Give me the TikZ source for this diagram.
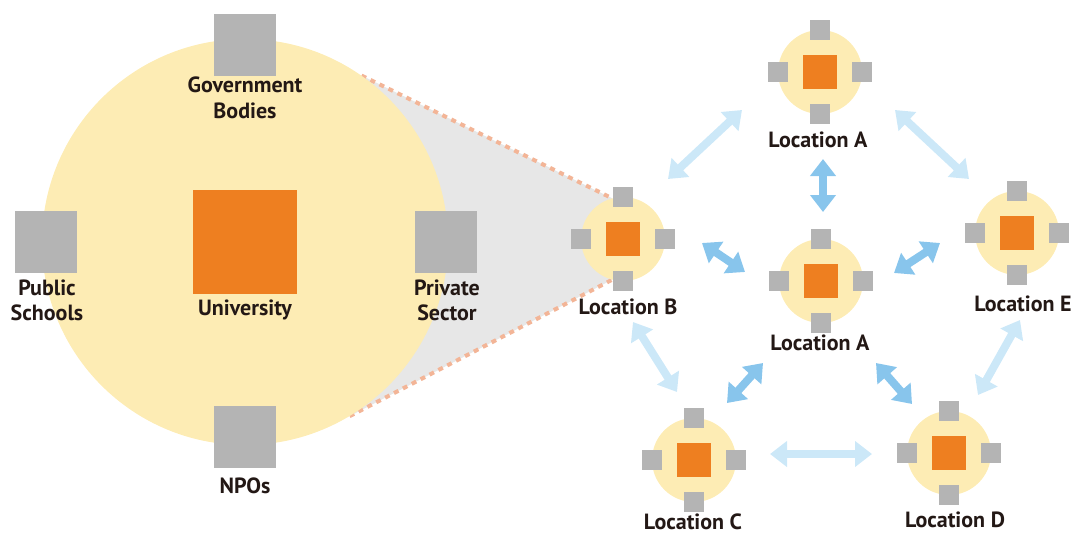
\documentclass[tikz,border=0pt]{standalone}
\usepackage{fontspec}
\setmainfont{PT Sans}
\usetikzlibrary{arrows.meta,backgrounds}

\definecolor{halo}{HTML}{FDECB4}
\definecolor{core}{HTML}{EE7F20}
\definecolor{partner}{HTML}{B4B4B4}
\definecolor{lens}{HTML}{E7E7E7}
\definecolor{zoomline}{HTML}{F3B597}
\definecolor{softblue}{HTML}{CCE8F8}
\definecolor{midblue}{HTML}{88C5EC}
\definecolor{ink}{HTML}{231815}

\tikzset{
  hub/.style={circle, fill=halo, draw=none, inner sep=0pt, minimum size=406pt},
  bigsq/.style={rectangle, fill=partner, draw=none, inner sep=0pt, minimum size=62pt},
  bigcore/.style={rectangle, fill=core, draw=none, inner sep=0pt, minimum size=104pt},
  sitec/.style={circle, fill=halo, draw=none, inner sep=0pt, minimum size=84pt},
  sitecore/.style={rectangle, fill=core, draw=none, inner sep=0pt, minimum size=34pt},
  sitesq/.style={rectangle, fill=partner, draw=none, inner sep=0pt, minimum size=20pt},
  lbl/.style={text=ink, inner sep=0pt, align=center,
    font=\fontsize{22}{25.5}\selectfont\bfseries},
  zoomedge/.style={draw=zoomline, line width=4pt, dash pattern=on 5pt off 5pt},
  weak/.style={draw=softblue, line width=8pt,
    {Triangle[width=25pt,length=17pt]}-{Triangle[width=25pt,length=17pt]}},
  strong/.style={draw=midblue, line width=8pt,
    {Triangle[width=25pt,length=17pt]}-{Triangle[width=25pt,length=17pt]}}
}

% one local site: halo, core and its four partners
\newcommand\localsite[2]{%
  \node[sitec] (#1) at (#2) {};
  \node[sitecore] (#1-core) at (#1) {};
  \node[sitesq] (#1-n) at (#1.north) {};
  \node[sitesq] (#1-s) at (#1.south) {};
  \node[sitesq] (#1-w) at (#1.west) {};
  \node[sitesq] (#1-e) at (#1.east) {};
}

\begin{document}
\begin{tikzpicture}[x=1pt, y=-1pt]
\useasboundingbox (0,0) rectangle (1078,533);

% enlarged hub
\node[hub] (U) at (245,242) {};
\node[bigsq] (gov) at (245,45) {};
\node[bigsq] (sch) at (46,242) {};
\node[bigsq] (pri) at (446,242) {};
\node[bigsq] (npo) at (245,437) {};
\node[bigcore] (uni) at (245,242) {};

\node[lbl] (gov-l) at (245,98) {Government\\Bodies};
\node[lbl] (sch-l) at (47,300.5) {Public\\Schools};
\node[lbl] (pri-l) at (447,300.5) {Private\\Sector};
\node[lbl, anchor=base] (uni-l) at (245,315) {University};
\node[lbl, anchor=base] (npo-l) at (245,493) {NPOs};

% network of local sites
\localsite{A1}{820,72}
\localsite{A2}{821,281}
\localsite{B}{623,239}
\localsite{C}{694,460}
\localsite{D}{949,453}
\localsite{E}{1017,233}

% zoom lens from site B to the enlarged hub
\begin{scope}[on background layer]
  \fill[lens] (U.55.4) -- (B.105) -- (B.center) -- (B.255) -- (U.-59.6) -- (U.center) -- cycle;
  \draw[zoomedge] (U.55.4) -- (B.105);
  \draw[zoomedge] (U.-59.6) -- (B.255);
\end{scope}

\node[lbl, anchor=base] (A1-l) at (818,147) {Location A};
\node[lbl, anchor=base] (A2-l) at (820,350) {Location A};
\node[lbl, anchor=base] (B-l) at (628,314) {Location B};
\node[lbl, anchor=base] (C-l) at (693,529) {Location C};
\node[lbl, anchor=base] (D-l) at (955,527) {Location D};
\node[lbl, anchor=base] (E-l) at (1023,311) {Location E};

% arrow ends
\coordinate (p1a) at (668,179); \coordinate (p1b) at (742,110);
\coordinate (p2a) at (895,110); \coordinate (p2b) at (969,179);
\coordinate (p3a) at (633,322); \coordinate (p3b) at (677,392);
\coordinate (p4a) at (770,454); \coordinate (p4b) at (872,454);
\coordinate (p5a) at (1020,320); \coordinate (p5b) at (978,395);
\coordinate (m1a) at (823,159); \coordinate (m1b) at (823,212);
\coordinate (m2a) at (702,243); \coordinate (m2b) at (745,272);
\coordinate (m3a) at (894,273); \coordinate (m3b) at (940,243);
\coordinate (m4a) at (763,363); \coordinate (m4b) at (727,403);
\coordinate (m5a) at (876,363); \coordinate (m5b) at (912,404);

% outer ring links
\draw[weak] (p1a) -- (p1b);
\draw[weak] (p2a) -- (p2b);
\draw[weak] (p3a) -- (p3b);
\draw[weak] (p4a) -- (p4b);
\draw[weak] (p5a) -- (p5b);

% links to the central site
\draw[strong] (m1a) -- (m1b);
\draw[strong] (m2a) -- (m2b);
\draw[strong] (m3a) -- (m3b);
\draw[strong] (m4a) -- (m4b);
\draw[strong] (m5a) -- (m5b);
\end{tikzpicture}
\end{document}
